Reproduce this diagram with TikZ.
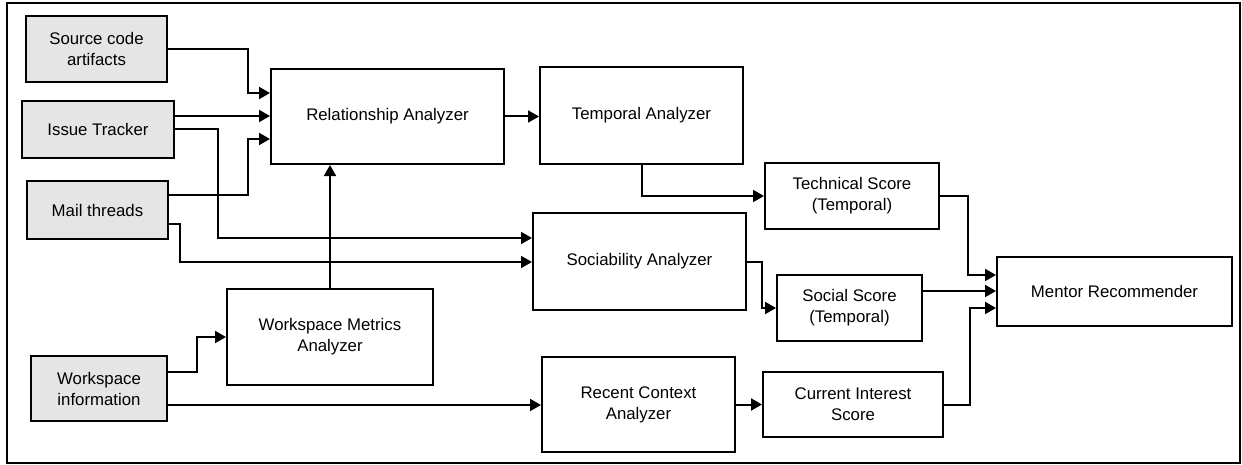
\documentclass[tikz,border=0pt]{standalone}
\usepackage{fontspec}
\setmainfont{Liberation Sans}
\usetikzlibrary{arrows.meta}
\tikzset{
  box/.style={draw, line width=1pt, fill=white, inner sep=0pt, align=center,
    font=\fontsize{8.4}{10.5}\selectfont},
  src/.style={box, fill=black!10},
  arr/.style={line width=1pt, -{Triangle[length=5.5pt,width=6pt]}},
}
\begin{document}
\begin{tikzpicture}[x=0.5pt,y=-0.5pt]
\useasboundingbox (0,0) rectangle (1242,465);
\draw[line width=1pt] (7,3) rectangle (1240,463);
% sources
\node[src, minimum width=70.5pt, minimum height=33pt] (srcc) at (96.5,49) {Source code\\artifacts};
\node[src, minimum width=76pt, minimum height=28.5pt] (it) at (98,129.5) {Issue Tracker};
\node[src, minimum width=70.5pt, minimum height=29pt] (mail) at (97.5,210) {Mail threads};
\node[src, minimum width=68pt, minimum height=32.5pt] (wsi) at (99,388.5) {Workspace\\information};
% analyzers
\node[box, minimum width=116.5pt, minimum height=47.5pt] (ra) at (387.5,116.5) {Relationship Analyzer};
\node[box, minimum width=101.5pt, minimum height=48.5pt] (ta) at (641.5,115.5) {Temporal Analyzer};
\node[box, minimum width=106.5pt, minimum height=48.5pt] (soc) at (639.5,261.5) {Sociability Analyzer};
\node[box, minimum width=96.5pt, minimum height=47.5pt] (rca) at (638.5,404.5) {Recent Context\\Analyzer};
\node[box, minimum width=103pt, minimum height=48pt] (wma) at (330,337) {Workspace Metrics\\Analyzer};
% scores
\node[box, minimum width=87pt, minimum height=33pt] (tech) at (852,196) {Technical Score\\(Temporal)};
\node[box, minimum width=72.5pt, minimum height=33pt] (social) at (849.5,308) {Social Score\\(Temporal)};
\node[box, minimum width=90pt, minimum height=32.5pt] (cis) at (853,404.5) {Current Interest\\Score};
\node[box, minimum width=117.5pt, minimum height=34.5pt] (mr) at (1114.5,291.5) {Mentor Recommender};
% connectors
\draw[arr] (srcc.east) -| (248,93) -- (ra.west |- 0,93);
\draw[arr] (it.east |- 0,116) -- (ra.west |- 0,116);
\draw[arr] (mail.east |- 0,195) -| (248,139) -- (ra.west |- 0,139);
\draw[arr] (it.east |- 0,129) -| (218,238) -- (soc.west |- 0,238);
\draw[arr] (mail.east |- 0,224) -| (180,262) -- (soc.west |- 0,262);
\draw[arr] (wma.north) -- (wma.north |- ra.south);
\draw[arr] (wsi.east |- 0,372) -| (197,337) -- (wma.west);
\draw[arr] (wsi.east |- 0,405) -- (rca.west |- 0,405);
\draw[arr] (ra.east) -- (ta.west |- ra.east);
\draw[arr] (ta.south) |- (tech.west);
\draw[arr] (soc.east) -| (762,308) -- (social.west);
\draw[arr] (rca.east) -- (cis.west);
\draw[arr] (tech.east) -| (968,275) -- (mr.west |- 0,275);
\draw[arr] (social.east |- 0,291) -- (mr.west |- 0,291);
\draw[arr] (cis.east) -| (970,308) -- (mr.west |- 0,308);
\end{tikzpicture}
\end{document}
